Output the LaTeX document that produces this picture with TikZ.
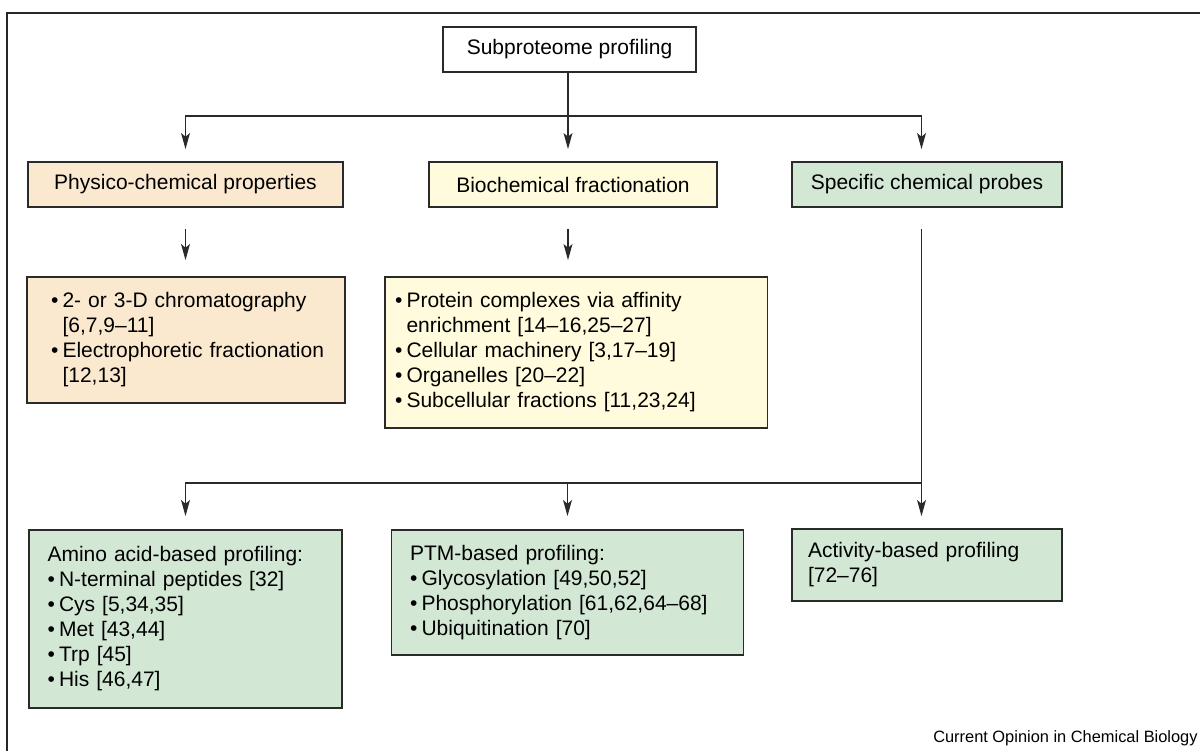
\documentclass[tikz,border=0pt]{standalone}
\usepackage{fontspec}
\setmainfont{Liberation Sans}
\usetikzlibrary{arrows.meta}
\definecolor{peach}{HTML}{FBE9CF}
\definecolor{pyellow}{HTML}{FFFBDC}
\definecolor{pgreen}{HTML}{D3E7D5}
\definecolor{edge}{HTML}{2A2A2A}
\newcommand{\bu}{\makebox[0.55em][l]{•}}
\newcommand{\ind}{\hspace*{0.55em}}
\newcommand{\lx}[1]{\mbox{#1}}
\tikzset{
  box/.style={draw=edge, line width=0.85pt, rectangle, inner sep=0pt,
    font=\fontsize{10.5pt}{12.5pt}\selectfont},
  leftbox/.style={box, align=left},
  arr/.style={draw=edge, line width=0.85pt, -{Stealth[length=8pt,width=4.4pt,inset=1.8pt]}},
  frame/.style={draw=black!85, line width=0.6pt}
}
\begin{document}
\begin{tikzpicture}[x=0.5pt,y=-0.5pt]
\useasboundingbox (0,0) rectangle (1200,751);
\draw[frame] (1200,13) -- (7,13) -- (7,751);

\node[box, fill=white, minimum width=126.5pt, minimum height=22.5pt] (top) at (569.5,49.5) {Subproteome profiling};

\node[box, fill=peach, minimum width=157.5pt, minimum height=22.5pt] (phys) at (185.5,184.5) {Physico-chemical properties};
\node[box, fill=pyellow, minimum width=144pt, minimum height=22.5pt] (bio) at (573,184.5) {Biochemical fractionation};
\node[box, fill=pgreen, minimum width=135pt, minimum height=22.5pt] (spec) at (927,184.5) {Specific chemical probes};

\node[leftbox, fill=peach, inner xsep=12pt, text width=135pt, minimum height=63pt] (physsub) at (186,340)
 {\lx{\bu 2- or 3-D chromatography}\\\lx{\ind[6,7,9–11]}\\\lx{\bu Electrophoretic fractionation}\\\lx{\ind[12,13]}};
\node[leftbox, fill=pyellow, inner xsep=5pt, text width=181.3pt, minimum height=75.5pt] (biosub) at (576.3,352.5)
 {\lx{\bu Protein complexes via affinity}\\\lx{\ind enrichment [14–16,25–27]}\\\lx{\bu Cellular machinery [3,17–19]}\\\lx{\bu Organelles [20–22]}\\\lx{\bu Subcellular fractions [11,23,24]}};

\node[leftbox, fill=pgreen, inner xsep=9.25pt, text width=138pt, minimum height=89pt] (amino) at (185.5,619)
 {\lx{Amino acid-based profiling:}\\\lx{\bu N-terminal peptides [32]}\\\lx{\bu Cys [5,34,35]}\\\lx{\bu Met [43,44]}\\\lx{\bu Trp [45]}\\\lx{\bu His [46,47]}};
\node[leftbox, fill=pgreen, inner xsep=9.25pt, text width=157.5pt, minimum height=62.5pt] (ptm) at (567.5,592.5)
 {\lx{PTM-based profiling:}\\\lx{\bu Glycosylation [49,50,52]}\\\lx{\bu Phosphorylation [61,62,64–68]}\\\lx{\bu Ubiquitination [70]}};
\node[leftbox, fill=pgreen, inner xsep=8pt, text width=119pt, minimum height=36pt] (act) at (927,565)
 {\lx{Activity-based profiling}\\\lx{[72–76]}};

\node[font=\fontsize{8.2pt}{10pt}\selectfont, inner sep=0pt, anchor=base east] (cap) at (1198,742) {Current Opinion in Chemical Biology};

\coordinate (j1) at (568,116);
\coordinate (j3) at (921.5,116);
\coordinate (j4) at (921.5,483);

\draw[arr, shorten >=6pt] (j1 |- top.south) -- (j1 |- bio.north);
\draw[arr, shorten >=6pt] (j1) -| (phys.north);
\draw[arr, shorten >=6pt] (j1) -- (j3) -- (j3 |- spec.north);

\draw[arr, shorten <=10.5pt, shorten >=8pt] (phys.south) -- (phys.south |- physsub.north);
\draw[arr, shorten <=10.5pt, shorten >=8pt] (j1 |- bio.south) -- (j1 |- biosub.north);

\draw[arr, shorten <=10.5pt, shorten >=6pt] (j3 |- spec.south) -- (j3 |- act.north);
\draw[arr, shorten >=6.5pt] (j4) -| (amino.north);
\draw[arr, shorten >=6.5pt] (j4 -| ptm.north) -- (ptm.north);
\end{tikzpicture}
\end{document}
